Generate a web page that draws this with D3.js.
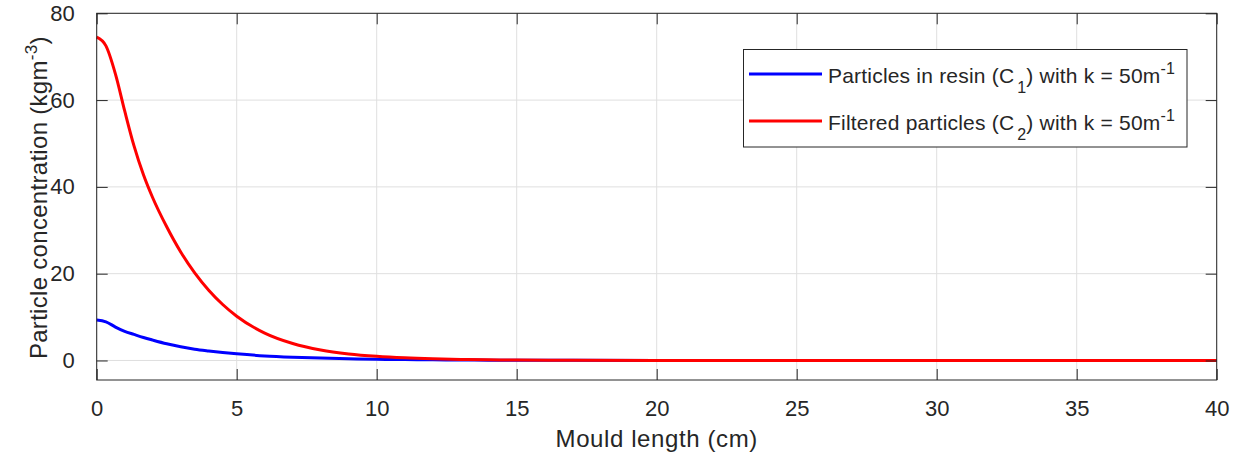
<!DOCTYPE html>
<html>
<head>
<meta charset="utf-8">
<script src="https://cdn.jsdelivr.net/npm/d3@7/dist/d3.min.js"></script>
<style>
  html, body { margin: 0; padding: 0; background: #ffffff; }
  svg { display: block; }
  text { font-family: "Liberation Sans", Arial, Helvetica, sans-serif; fill: #262626; }
</style>
</head>
<body>
<svg id="chart" width="1248" height="457"></svg>
<script>
// ---- Data ----
const mouldLength = [0, 0.33, 0.67, 1, 1.33, 1.67, 2, 2.5, 3, 3.5, 4, 4.5, 5, 6, 7, 8, 9, 10, 11, 12, 13, 14, 15, 17, 20, 25, 30, 35, 40];
const resinParticles = [9.3, 8.9, 7.7, 6.7, 6.0, 5.3, 4.7, 3.85, 3.15, 2.6, 2.2, 1.85, 1.55, 1.05, 0.75, 0.55, 0.4, 0.28, 0.2, 0.14, 0.1, 0.07, 0.05, 0.03, 0.01, 0, 0, 0, 0];
const filteredParticles = [74.5, 72.5, 66.0, 57.5, 49.5, 42.8, 37.5, 30.8, 25.0, 20.2, 16.2, 12.9, 10.2, 6.3, 3.9, 2.4, 1.5, 0.95, 0.6, 0.38, 0.24, 0.15, 0.1, 0.04, 0.01, 0, 0, 0, 0];
const xTicks = [0, 5, 10, 15, 20, 25, 30, 35, 40];
const yTicks = [0, 20, 40, 60, 80];
const seriesNames = ["Particles in resin", "Filtered particles"];
const seriesColors = ["#0000ff", "#ff0000"];

// ---- Layout ----
const svg = d3.select("#chart");
const L = 96.7, R = 1216.7, T = 13.3, B = 380;
const x = d3.scaleLinear().domain([0, 40]).range([L, R]);
const y = d3.scaleLinear().domain([-4.5, 80]).range([B, T]);
const tickLen = 11;
const axisColor = "#262626";
const gridColor = "#dfdfdf";

// grid
const grid = svg.append("g");
grid.selectAll("line.gx").data(xTicks).join("line")
  .attr("x1", d => x(d)).attr("x2", d => x(d)).attr("y1", T).attr("y2", B)
  .attr("stroke", gridColor).attr("stroke-width", 1);
grid.selectAll("line.gy").data(yTicks).join("line")
  .attr("x1", L).attr("x2", R).attr("y1", d => y(d)).attr("y2", d => y(d))
  .attr("stroke", gridColor).attr("stroke-width", 1);

// lines
const series = [resinParticles, filteredParticles];
const line = d3.line().x((d, i) => x(mouldLength[i])).y(d => y(d)).curve(d3.curveMonotoneX);
svg.append("g").selectAll("path").data(series).join("path")
  .attr("d", d => line(d))
  .attr("fill", "none")
  .attr("stroke", (d, i) => seriesColors[i])
  .attr("stroke-width", 3)
  .attr("stroke-linejoin", "round");

// axes (box with inward ticks on all sides)
const bottomAxis = d3.axisBottom(x).tickValues(xTicks).tickSizeInner(-tickLen).tickSizeOuter(0).tickPadding(20).tickFormat(d3.format("d"));
const topAxis = d3.axisTop(x).tickValues(xTicks).tickSizeInner(-tickLen).tickSizeOuter(0).tickFormat("");
const leftAxis = d3.axisLeft(y).tickValues(yTicks).tickSizeInner(-tickLen).tickSizeOuter(0).tickPadding(22).tickFormat(d3.format("d"));
const rightAxis = d3.axisRight(y).tickValues(yTicks).tickSizeInner(-tickLen).tickSizeOuter(0).tickFormat("");

function styleAxis(g) {
  g.select(".domain").remove();
  g.selectAll(".tick line").attr("stroke", axisColor).attr("stroke-width", 1);
  g.selectAll(".tick text").attr("fill", axisColor).style("font-size", "22px")
    .style("font-family", "'Liberation Sans', Arial, Helvetica, sans-serif");
}
svg.append("g").attr("transform", `translate(0,${B})`).call(bottomAxis).call(styleAxis);
svg.append("g").attr("transform", `translate(0,${T})`).call(topAxis).call(styleAxis);
svg.append("g").attr("transform", `translate(${L},0)`).call(leftAxis).call(styleAxis);
svg.append("g").attr("transform", `translate(${R},0)`).call(rightAxis).call(styleAxis);

svg.append("rect").attr("x", L).attr("y", T).attr("width", R - L).attr("height", B - T)
  .attr("fill", "none").attr("stroke", axisColor).attr("stroke-width", 1);

// axis labels
svg.append("text").attr("x", (L + R) / 2).attr("y", 447).attr("text-anchor", "middle")
  .style("font-size", "24px").style("letter-spacing", "0.6px").text("Mould length (cm)");

const yl = svg.append("text").attr("transform", `translate(47,${(T + B) / 2 + 1}) rotate(-90)`)
  .attr("text-anchor", "middle").style("font-size", "24px").style("letter-spacing", "0.3px");
yl.append("tspan").text("Particle concentration (kgm");
yl.append("tspan").attr("dy", -10).style("font-size", "17px").text("-3");
yl.append("tspan").attr("dy", 10).text(")");

// legend
const lg = svg.append("g");
lg.append("rect").attr("x", 743.5).attr("y", 49.5).attr("width", 443.5).attr("height", 97.5)
  .attr("fill", "#ffffff").attr("stroke", axisColor).attr("stroke-width", 1);
const rowsY = [74, 121];
const subs = ["1", "2"];
seriesNames.forEach((name, i) => {
  lg.append("line").attr("x1", 749).attr("x2", 822).attr("y1", rowsY[i]).attr("y2", rowsY[i])
    .attr("stroke", seriesColors[i]).attr("stroke-width", 3);
  const t = lg.append("text").attr("x", 828).attr("y", rowsY[i] + 8.5)
    .style("font-size", "21px").style("letter-spacing", "0.2px");
  t.append("tspan").text(name + " (C");
  t.append("tspan").attr("dx", 3).attr("dy", 10).style("font-size", "16px").text(subs[i]);
  t.append("tspan").attr("dy", -10).text(") with k = 50m");
  t.append("tspan").attr("dy", -9).style("font-size", "16px").text("-1");
});
</script>
</body>
</html>
